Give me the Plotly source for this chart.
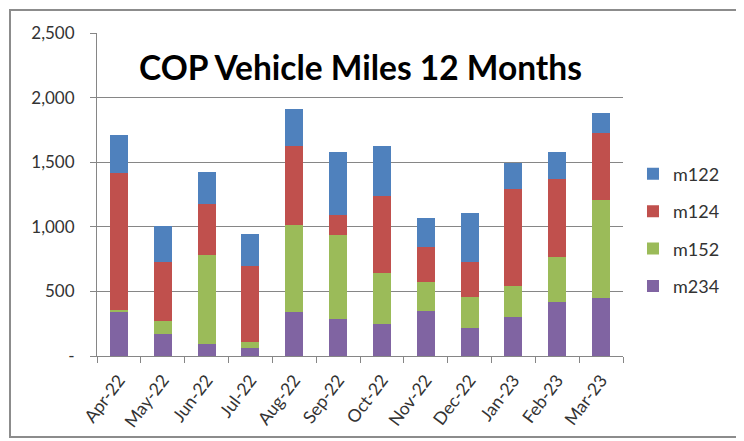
import plotly.graph_objects as go

months = ["Apr-22", "May-22", "Jun-22", "Jul-22", "Aug-22", "Sep-22",
          "Oct-22", "Nov-22", "Dec-22", "Jan-23", "Feb-23", "Mar-23"]
m234 = [345, 168, 90, 65, 344, 284, 245, 349, 214, 305, 421, 452]
m152 = [10, 106, 693, 46, 671, 654, 396, 227, 241, 237, 344, 757]
m124 = [1065, 457, 395, 589, 607, 155, 594, 271, 276, 750, 604, 516]
m122 = [292, 276, 250, 243, 289, 483, 387, 220, 375, 201, 207, 155]

series = [("m234", m234, "#8064A2", 4), ("m152", m152, "#9BBB59", 3),
          ("m124", m124, "#C0504D", 2), ("m122", m122, "#4F81BD", 1)]

ytick_vals = [0, 500, 1000, 1500, 2000, 2500]
ytick_text = ["-", "500", "1,000", "1,500", "2,000", "2,500"]

FONT = "Lato"

fig = go.Figure()
for name, vals, col, rank in series:
    fig.add_trace(go.Bar(x=months, y=vals, name=name, legendgroup=name,
                         legendrank=rank,
                         marker=dict(color=col, line=dict(width=0))))

fig.update_layout(
    width=744, height=441,
    barmode="stack", bargap=0.59,
    paper_bgcolor="white", plot_bgcolor="white",
    margin=dict(l=89, r=129, t=25, b=93, autoexpand=False),
    font=dict(family=FONT, size=17, color="#333333"),
    showlegend=True,
    legend=dict(traceorder="grouped", tracegroupgap=11,
                x=1.019, xanchor="left", y=0.39, yanchor="middle",
                font=dict(family=FONT, size=18, color="#333333"),
                bgcolor="rgba(0,0,0,0)", itemwidth=30),
    xaxis=dict(type="category", tickson="boundaries", ticks="outside",
               ticklen=6, tickcolor="#868686", showline=True,
               linecolor="#868686", linewidth=1, tickangle=-53,
               tickfont=dict(family=FONT, size=17.5, color="#333333"),
               ticklabelstandoff=6, showgrid=False),
    yaxis=dict(range=[0, 2500], tickvals=ytick_vals, ticktext=ytick_text,
               ticks="outside", ticklen=6, tickcolor="#868686",
               showline=True, linecolor="#868686", linewidth=1,
               showgrid=True, gridcolor="#868686", gridwidth=1,
               tickfont=dict(family=FONT, size=17, color="#333333"),
               ticklabelstandoff=12, zeroline=False),
    annotations=[dict(text="<b>COP Vehicle Miles 12 Months</b>",
                      x=0.501, y=2240, xref="paper", yref="y",
                      xanchor="center", yanchor="middle", showarrow=False,
                      font=dict(family=FONT, size=33.5, color="black"))],
    shapes=[dict(type="rect", xref="paper", yref="paper",
                 x0=-0.1654, x1=1.2224, y0=-0.2508, y1=1.0712,
                 line=dict(color="#8c8c8c", width=2), layer="below")],
)

fig.write_html("out.html")
